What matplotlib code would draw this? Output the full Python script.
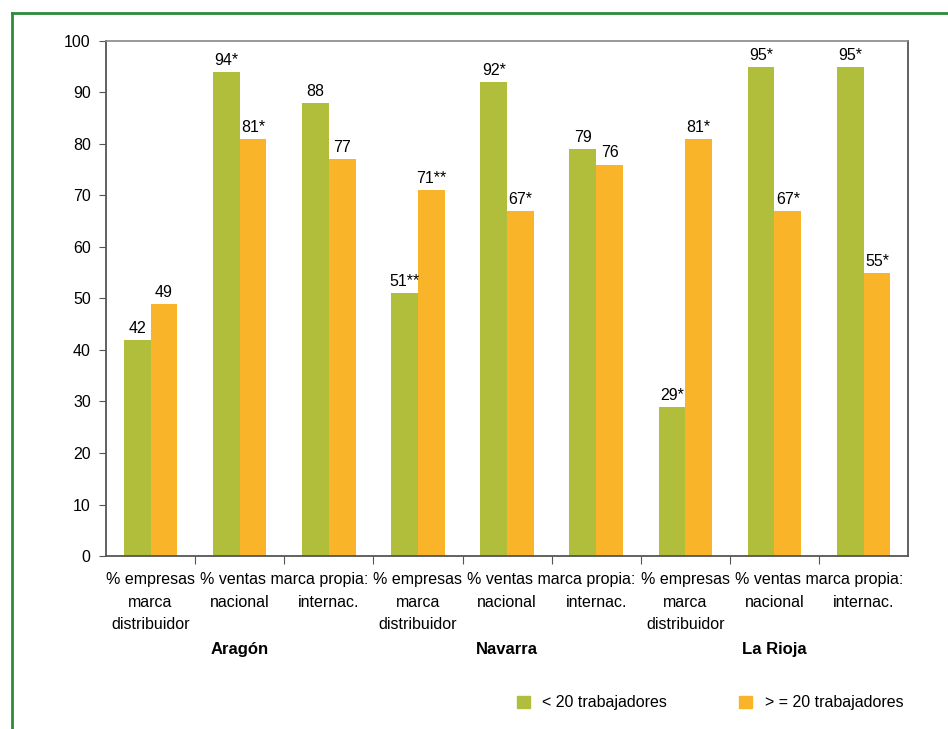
import numpy as np
import matplotlib
matplotlib.use('Agg')
from matplotlib import pyplot as plt
from matplotlib.lines import Line2D
from matplotlib.patches import Patch
from matplotlib.transforms import blended_transform_factory

plt.rcParams['font.family'] = ['Liberation Sans', 'DejaVu Sans']

regions = ['Aragón', 'Navarra', 'La Rioja']
series_names = ['< 20 trabajadores', '> = 20 trabajadores']
small_firms = [42, 94, 88, 51, 92, 79, 29, 95, 95]
large_firms = [49, 81, 77, 71, 67, 76, 81, 67, 55]
small_marks = ['', '*', '', '**', '*', '', '*', '*', '*']
large_marks = ['', '*', '', '**', '*', '', '*', '*', '*']
yticks = [0, 10, 20, 30, 40, 50, 60, 70, 80, 90, 100]

green = '#b0be3c'
orange = '#f9b42a'
fontsize = 11.5

fig = plt.figure(figsize=(9.48, 7.29), dpi=100)
ax = fig.add_axes([0.1118, 0.2373, 0.958 - 0.1118, 0.9438 - 0.2373])

x = np.arange(len(small_firms))
w = 0.3
ax.bar(x - w / 2, small_firms, w, color=green, label=series_names[0])
ax.bar(x + w / 2, large_firms, w, color=orange, label=series_names[1])

for xi, v, m in zip(x, small_firms, small_marks):
    ax.text(xi - w / 2, v + 0.8, f'{v}{m}', ha='center', va='bottom', fontsize=fontsize)
for xi, v, m in zip(x, large_firms, large_marks):
    ax.text(xi + w / 2, v + 0.8, f'{v}{m}', ha='center', va='bottom', fontsize=fontsize)

ax.set_xlim(-0.5, len(x) - 0.5)
ax.set_ylim(0, 100)
ax.set_yticks(yticks)
ax.tick_params(axis='y', labelsize=fontsize, direction='out', length=5, color='#555555', pad=6)
ax.set_xticks(np.arange(0.5, len(x) - 0.5, 1.0))
ax.set_xticklabels([])
ax.tick_params(axis='x', direction='out', length=6, color='#555555')

for side in ['left', 'right', 'bottom']:
    ax.spines[side].set_color('#555555')
    ax.spines[side].set_linewidth(1.3)
ax.spines['top'].set_color('#888888')
ax.spines['top'].set_linestyle((0, (2, 1)))
ax.spines['top'].set_linewidth(1.2)

# category labels below the axis, three indicators per region
tr = blended_transform_factory(ax.transData, fig.transFigure)
for g, region in enumerate(regions):
    b = g * 3
    for k, line in enumerate(['% empresas', 'marca', 'distribuidor']):
        ax.text(b, 0.2044 - k * 0.0302, line, transform=tr, ha='center', va='center', fontsize=fontsize)
    ax.text(b + 1.5, 0.2044, '% ventas marca propia:', transform=tr, ha='center', va='center', fontsize=fontsize)
    ax.text(b + 1, 0.1742, 'nacional', transform=tr, ha='center', va='center', fontsize=fontsize)
    ax.text(b + 2, 0.1742, 'internac.', transform=tr, ha='center', va='center', fontsize=fontsize)
    ax.text(b + 1, 0.1084, region, transform=tr, ha='center', va='center', fontsize=fontsize + 0.5, fontweight='bold')

handles = [Patch(color=green), Patch(color=orange)]
fig.legend(handles, series_names, loc='center', bbox_to_anchor=(710 / 948, 0.0357), ncol=2,
           frameon=False, fontsize=fontsize, handlelength=0.8, handleheight=0.8,
           handletextpad=0.8, columnspacing=4.5)

# green frame on the left and top
fx, fy = 12 / 948, 1 - 13 / 729
fig.add_artist(Line2D([fx, fx], [0, fy], transform=fig.transFigure, color='#2e8b3a', linewidth=2))
fig.add_artist(Line2D([fx, 1], [fy, fy], transform=fig.transFigure, color='#2e8b3a', linewidth=2))

fig.savefig('out.png', dpi=100)
